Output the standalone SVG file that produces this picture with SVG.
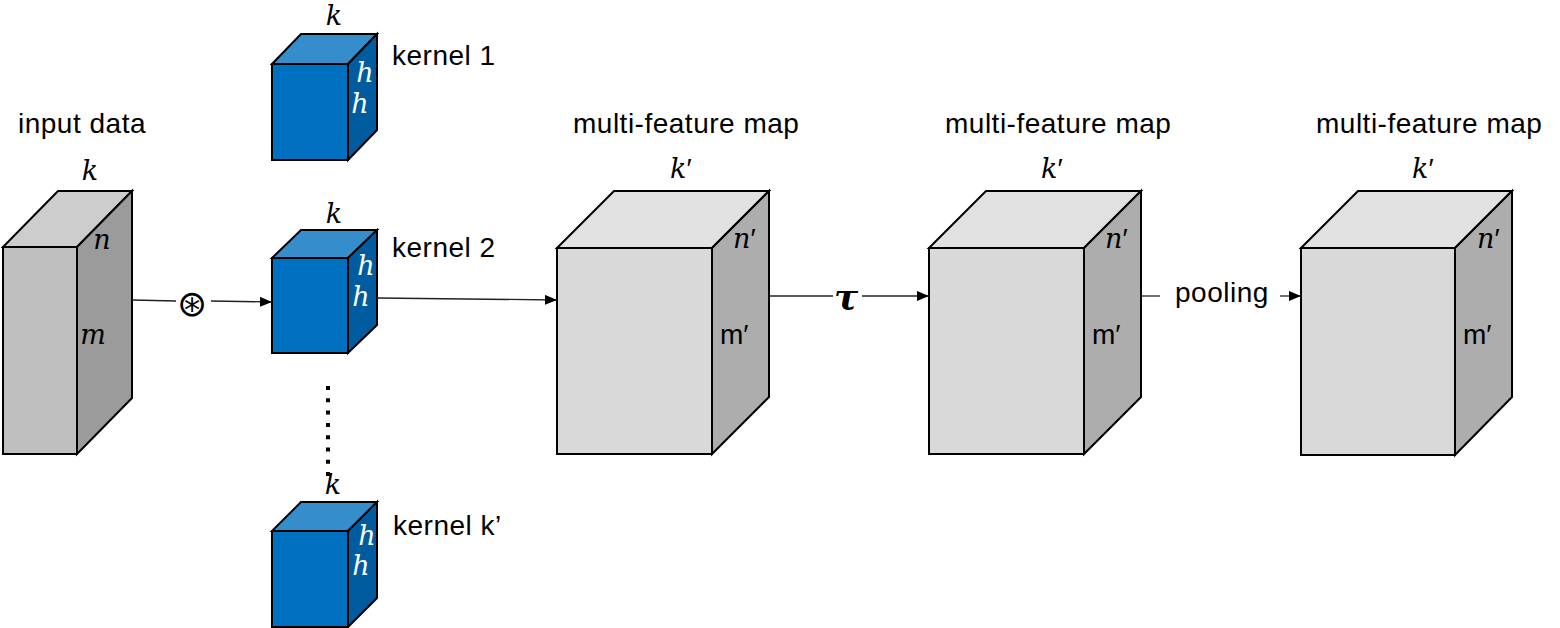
<svg xmlns="http://www.w3.org/2000/svg" width="1560" height="628" viewBox="0 0 1560 628">
<style>
  .ol{stroke:#000;stroke-width:2;stroke-linejoin:miter}
  .gf{fill:#bfbfbf}.gt{fill:#cdcdcd}.gs{fill:#9b9b9b}
  .lf{fill:#d9d9d9}.lt{fill:#e1e1e1}.ls{fill:#adadad}
  .bf{fill:#0070c0}.bt{fill:#368dcb}.bs{fill:#005c9f}
  .lbl{font-family:"Liberation Sans",Arial,sans-serif;font-size:28px;letter-spacing:0.5px;fill:#000}
  .mi{font-family:"DejaVu Serif","Liberation Serif",serif;font-style:italic;font-size:27px;fill:#000}
  .miw{font-family:"DejaVu Serif","Liberation Serif",serif;font-style:italic;font-size:27px;fill:#fff}
  .mp{font-family:"Liberation Sans",Arial,sans-serif;font-size:28px;fill:#000}
  .pr{font-family:"Liberation Sans",Arial,sans-serif;font-style:normal;font-size:28px}
  .cn{stroke:#222;stroke-width:1.3;fill:none}
</style>
<defs>
  <marker id="ah" markerUnits="userSpaceOnUse" markerWidth="13" markerHeight="10" refX="12" refY="5" orient="auto">
    <path d="M0,0 L12,5 L0,10 Z" fill="#000"/>
  </marker>
</defs>

<g id="input-data">
  <text class="lbl" x="18" y="133">input data</text>
  <polygon class="gt ol" points="3,247 58,191 132,191 77,247"/>
  <polygon class="gs ol" points="77,247 132,191 132,398 77,454"/>
  <rect class="gf ol" x="3" y="247" width="74" height="207"/>
  <text class="mi" x="90" y="180" text-anchor="middle">k</text>
  <text class="mi" x="102" y="249" text-anchor="middle">n</text>
  <text class="mi" x="93" y="344" text-anchor="middle">m</text>
</g>

<g id="kernel-1">
  <polygon class="bt ol" points="272,64 301,34 377,34 348,64"/>
  <polygon class="bs ol" points="348,64 377,34 377,130 348,160"/>
  <rect class="bf ol" x="272" y="64" width="76" height="96"/>
  <text class="mi" x="334" y="25" text-anchor="middle">k</text>
  <text class="miw" x="365" y="82" text-anchor="middle">h</text>
  <text class="miw" x="360" y="113" text-anchor="middle">h</text>
  <text class="lbl" x="392" y="65">kernel 1</text>
</g>

<g id="kernel-2">
  <polygon class="bt ol" points="272,258 301,230 377,230 348,258"/>
  <polygon class="bs ol" points="348,258 377,230 377,325 348,353"/>
  <rect class="bf ol" x="272" y="258" width="76" height="95"/>
  <text class="mi" x="334" y="223" text-anchor="middle">k</text>
  <text class="miw" x="366" y="275" text-anchor="middle">h</text>
  <text class="miw" x="361" y="306" text-anchor="middle">h</text>
  <text class="lbl" x="392" y="257">kernel 2</text>
</g>

<g id="kernel-k">
  <polygon class="bt ol" points="272,531 301,502 377,502 348,531"/>
  <polygon class="bs ol" points="348,531 377,502 377,598 348,627"/>
  <rect class="bf ol" x="272" y="531" width="76" height="96"/>
  <text class="mi" x="333" y="494" text-anchor="middle">k</text>
  <text class="miw" x="367" y="545" text-anchor="middle">h</text>
  <text class="miw" x="361" y="575" text-anchor="middle">h</text>
  <text class="lbl" x="393" y="535">kernel k’</text>
</g>

<g id="map-1">
  <text class="lbl" x="573" y="133">multi-feature map</text>
  <polygon class="lt ol" points="557,248 614,191 769,191 712,248"/>
  <polygon class="ls ol" points="712,248 769,191 769,397 712,454"/>
  <rect class="lf ol" x="557" y="248" width="155" height="206"/>
  <text class="mi" x="670" y="178">k<tspan class="pr">′</tspan></text>
  <text class="mi" x="733" y="248">n<tspan class="pr">′</tspan></text>
  <text class="mp" x="720" y="344">m′</text>
</g>

<g id="map-2">
  <text class="lbl" x="945" y="133">multi-feature map</text>
  <polygon class="lt ol" points="929,248 986,191 1141,191 1084,248"/>
  <polygon class="ls ol" points="1084,248 1141,191 1141,397 1084,454"/>
  <rect class="lf ol" x="929" y="248" width="155" height="206"/>
  <text class="mi" x="1041" y="178">k<tspan class="pr">′</tspan></text>
  <text class="mi" x="1105" y="248">n<tspan class="pr">′</tspan></text>
  <text class="mp" x="1092" y="344">m′</text>
</g>

<g id="map-3">
  <text class="lbl" x="1316" y="133">multi-feature map</text>
  <polygon class="lt ol" points="1301,248 1358,191 1512,191 1455,248"/>
  <polygon class="ls ol" points="1455,248 1512,191 1512,397 1455,455"/>
  <rect class="lf ol" x="1301" y="248" width="154" height="207"/>
  <text class="mi" x="1412" y="178">k<tspan class="pr">′</tspan></text>
  <text class="mi" x="1477" y="248">n<tspan class="pr">′</tspan></text>
  <text class="mp" x="1463" y="344">m′</text>
</g>

<g id="connectors">
  <line class="cn" x1="132" y1="300" x2="176" y2="301"/>
  <text x="192" y="316" text-anchor="middle" style="font-family:'DejaVu Sans',sans-serif;font-size:36px;fill:#000">⊛</text>
  <line class="cn" x1="211" y1="301" x2="272" y2="302" marker-end="url(#ah)"/>
  <line class="cn" x1="377" y1="298" x2="557" y2="300" marker-end="url(#ah)"/>
  <line x1="328" y1="386" x2="328" y2="480" stroke="#000" stroke-width="4" stroke-dasharray="4 8.3"/>
  <line class="cn" x1="769" y1="296" x2="833" y2="296"/>
  <text x="846" y="309" text-anchor="middle" style="font-family:'DejaVu Serif','Liberation Serif',serif;font-style:italic;font-weight:bold;font-size:36px;fill:#000">τ</text>
  <line class="cn" x1="862" y1="296" x2="929" y2="296" marker-end="url(#ah)"/>
  <line class="cn" x1="1141" y1="296" x2="1160" y2="296"/>
  <text class="lbl" x="1175" y="302">pooling</text>
  <line class="cn" x1="1280" y1="296" x2="1301" y2="296" marker-end="url(#ah)"/>
</g>
</svg>
